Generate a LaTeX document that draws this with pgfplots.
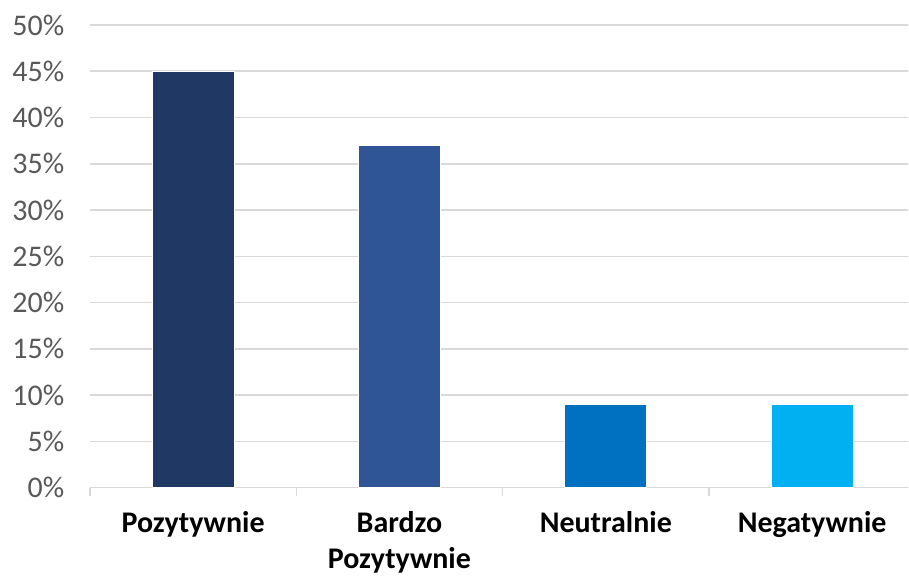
\documentclass[border=0pt]{standalone}
\usepackage{fontspec}
\setmainfont{Carlito}
\usepackage{pgfplots}
\pgfplotsset{compat=1.18}

\definecolor{c1}{HTML}{203864}
\definecolor{c2}{HTML}{2F5597}
\definecolor{c3}{HTML}{0070C0}
\definecolor{c4}{HTML}{00B0F0}
\definecolor{gridgray}{HTML}{D9D9D9}
\definecolor{labgray}{HTML}{595959}

\begin{document}
\begin{tikzpicture}[x=1bp,y=1bp]
\begin{axis}[
    scale only axis,
    width=819bp,
    height=463bp,
    xmin=-0.5, xmax=3.466,
    ymin=0, ymax=50,
    ytick={0,5,...,50},
    yticklabel={\pgfmathprintnumber{\tick}\%},
    /pgf/number format/assume math mode=true,
    xtick={0,1,2,3},
    xticklabels={Pozytywnie,{Bardzo\\Pozytywnie},Neutralnie,Negatywnie},
    minor xtick={-0.5,0.5,1.5,2.5},
    major x tick style={draw=none},
    minor x tick style={draw=gridgray, line width=1.2bp},
    minor tick length=8bp,
    tick align=outside,
    axis lines*=left,
    y axis line style={draw=none},
    x axis line style={draw=gridgray, line width=1.5bp},
    ytick style={draw=none},
    ymajorgrids,
    grid style={draw=gridgray, line width=1.5bp},
    yticklabel style={font=\fontsize{30bp}{32bp}\selectfont, text=labgray, xshift=-18bp},
    xticklabel style={font=\fontsize{30bp}{36bp}\selectfont\bfseries, text=black, align=center, yshift=-16bp},
    ybar,
    bar width=82bp,
    bar shift=0pt,
    clip=false,
]
\addplot[fill=c1, draw=white, line width=0.8bp] coordinates {(0,45)};
\addplot[fill=c2, draw=white, line width=0.8bp] coordinates {(1,37)};
\addplot[fill=c3, draw=white, line width=0.8bp] coordinates {(2,9)};
\addplot[fill=c4, draw=white, line width=0.8bp] coordinates {(3,9)};
\end{axis}
\path (-90bp,-90bp) rectangle (819bp,488bp);
\end{tikzpicture}
\end{document}
